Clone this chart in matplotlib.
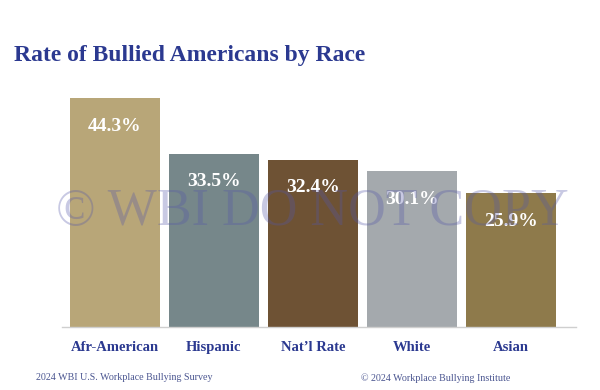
import matplotlib.pyplot as plt

categories = ["Afr-American", "Hispanic", "Nat\u2019l Rate", "White", "Asian"]
rates = [44.3, 33.5, 32.4, 30.1, 25.9]
bar_colors = ["#B8A678", "#76878A", "#6E5234", "#A4A9AD", "#8E7A4B"]

title = "Rate of Bullied Americans by Race"
source_left = "2024 WBI U.S. Workplace Bullying Survey"
source_right = "\u00a9 2024 Workplace Bullying Institute"
watermark = "\u00a9 WBI DO NOT COPY"

serif = ["Liberation Serif", "DejaVu Serif"]
navy = "#2B3990"

fig = plt.figure(figsize=(6, 3.9), dpi=100)
ax = fig.add_axes([62 / 600, 63 / 390, 514 / 600, 248 / 390])

x = range(len(categories))
bars = ax.bar(x, rates, width=0.91, color=bar_colors, zorder=2)

for rect, val in zip(bars, rates):
    ax.text(rect.get_x() + rect.get_width() / 2, val - 5.4, f"{val}%",
            ha="center", va="center", color="white", fontsize=14,
            fontweight="bold", family=serif, zorder=3)

ax.set_xlim(-0.535, 4.66)
ax.set_ylim(0, 48)
ax.set_xticks(list(x))
ax.set_xticklabels(categories, family=serif, fontweight="bold",
                   fontsize=10.5, color=navy)
ax.tick_params(axis="x", length=0, pad=10)
ax.set_yticks([])
for s in ["top", "left", "right"]:
    ax.spines[s].set_visible(False)
ax.spines["bottom"].set_color("#CFCFCF")
ax.spines["bottom"].set_linewidth(1)

fig.text(14 / 600, 1 - 55 / 390, title, family=serif, fontweight="bold",
         fontsize=17, color=navy, va="center", ha="left")

# watermark sits over the bars like in the original
fig.text(312 / 600, 1 - 212 / 390, watermark, family=serif, fontsize=37.5,
         color="#5558A8", alpha=0.32, ha="center", va="center", zorder=5)

fig.text(36 / 600, 1 - 378 / 390, source_left, family=serif, fontsize=7.2,
         color="#4A5590", ha="left", va="center")
fig.text(510 / 600, 1 - 378 / 390, source_right, family=serif, fontsize=7.2,
         color="#4A5590", ha="right", va="center")

fig.savefig("out.png", dpi=100)
